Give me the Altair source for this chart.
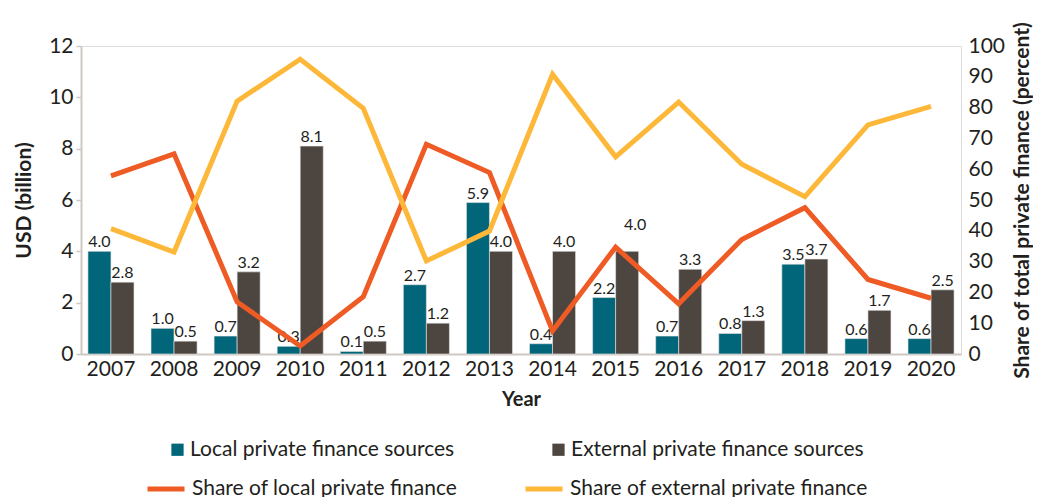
import altair as alt
import pandas as pd

years = [str(y) for y in range(2007, 2021)]
local_usd = [4.0, 1.0, 0.7, 0.3, 0.1, 2.7, 5.9, 0.4, 2.2, 0.7, 0.8, 3.5, 0.6, 0.6]
external_usd = [2.8, 0.5, 3.2, 8.1, 0.5, 1.2, 4.0, 4.0, 4.0, 3.3, 1.3, 3.7, 1.7, 2.5]
local_share = [57.8, 65.0, 16.9, 2.6, 18.6, 68.1, 58.9, 7.5, 34.7, 16.3, 37.2, 47.5, 24.2, 18.1]
external_share = [40.7, 33.1, 82.1, 95.7, 79.8, 30.2, 39.9, 90.8, 64.0, 81.8, 61.6, 51.1, 74.4, 80.4]

bar_series = ["Local private finance sources", "External private finance sources"]
line_series = ["Share of local private finance", "Share of external private finance"]
bar_colors = ["#02667a", "#4d4540"]
line_colors = ["#ef5b24", "#fdb83a"]

bars_df = pd.DataFrame({
    "Year": years * 2,
    "Series": [bar_series[0]] * len(years) + [bar_series[1]] * len(years),
    "USD": local_usd + external_usd,
})
bars_df["Label"] = bars_df["USD"].map(lambda v: f"{v:.1f}")
lines_df = pd.DataFrame({
    "Year": years * 2,
    "Series": [line_series[0]] * len(years) + [line_series[1]] * len(years),
    "Share": local_share + external_share,
})

FONT = "Lato"
TXT = "#231f20"
AXIS_GRAY = "#cdc8c4"

x_enc = alt.X(
    "Year:N",
    sort=years,
    scale=alt.Scale(paddingInner=0.27, paddingOuter=0.11),
    axis=alt.Axis(
        title="Year", titleFont=FONT, titleFontSize=20, titleFontWeight="bold",
        titleColor=TXT, titlePadding=10,
        labelFont=FONT, labelFontSize=21, labelColor=TXT, labelAngle=0,
        labelPadding=4, ticks=False, domainColor=AXIS_GRAY, domainWidth=2,
    ),
)

offset_enc = alt.XOffset("Series:N", sort=bar_series)

bars = alt.Chart(bars_df).mark_bar(stroke="#e8e6e4", strokeWidth=0.6).encode(
    x=x_enc,
    xOffset=offset_enc,
    y=alt.Y(
        "USD:Q",
        scale=alt.Scale(domain=[0, 12]),
        axis=alt.Axis(
            title="USD (billion)", titleFont=FONT, titleFontSize=21,
            titleFontWeight="bold", titleColor=TXT, titlePadding=14,
            labelFont=FONT, labelFontSize=21, labelColor=TXT,
            values=[0, 2, 4, 6, 8, 10, 12], grid=False,
            tickColor=AXIS_GRAY, tickSize=5, tickWidth=1.5,
            domainColor=AXIS_GRAY, domainWidth=2, labelPadding=3,
        ),
    ),
    fill=alt.Fill(
        "Series:N",
        sort=bar_series,
        scale=alt.Scale(domain=bar_series, range=bar_colors),
        legend=alt.Legend(
            title=None, orient="none", legendX=86, legendY=393,
            direction="horizontal", columns=2, columnPadding=93,
            symbolType="square", symbolSize=150, symbolStrokeWidth=0,
            labelFont=FONT, labelFontSize=21, labelColor=TXT, labelLimit=400,
            labelOffset=2,
        ),
    ),
)

labels_main = alt.Chart(bars_df).transform_filter(
    "!(datum.Year == '2015' && datum.Series == 'External private finance sources')"
).mark_text(font=FONT, fontSize=16, color=TXT, baseline="bottom", dy=-1).encode(
    x=alt.X("Year:N", sort=years),
    xOffset=offset_enc,
    y=alt.Y("USD:Q"),
    text="Label:N",
)

labels_2015 = alt.Chart(bars_df).transform_filter(
    "datum.Year == '2015' && datum.Series == 'External private finance sources'"
).mark_text(font=FONT, fontSize=16, color=TXT, baseline="bottom", dy=-18, dx=8).encode(
    x=alt.X("Year:N", sort=years),
    xOffset=offset_enc,
    y=alt.Y("USD:Q"),
    text="Label:N",
)

left = alt.layer(bars, labels_main, labels_2015)

lines = alt.Chart(lines_df).mark_line(strokeWidth=5).encode(
    x=alt.X("Year:N", sort=years),
    y=alt.Y(
        "Share:Q",
        scale=alt.Scale(domain=[0, 100]),
        axis=alt.Axis(
            title="Share of total private finance (percent)", titleFont=FONT,
            titleFontSize=21, titleFontWeight="bold", titleColor=TXT,
            titleAngle=270, titleBaseline="top", titlePadding=7,
            labelFont=FONT, labelFontSize=21,
            labelColor=TXT, values=list(range(0, 101, 10)), grid=False,
            ticks=False, domain=False, labelPadding=7,
        ),
    ),
    stroke=alt.Stroke(
        "Series:N",
        sort=line_series,
        scale=alt.Scale(domain=line_series, range=line_colors),
        legend=alt.Legend(
            title=None, orient="none", legendX=64, legendY=422,
            direction="horizontal", columns=2, columnPadding=57,
            symbolType="stroke", symbolSize=1369, symbolStrokeWidth=5,
            labelFont=FONT, labelFontSize=21, labelColor=TXT, labelLimit=400,
            labelOffset=5,
        ),
    ),
)

chart = alt.layer(left, lines).resolve_scale(
    y="independent", fill="independent", stroke="independent"
).properties(
    width=880, height=308,
    padding={"left": 5, "top": 13, "right": 0, "bottom": 0},
).configure_view(stroke=None).configure(background="white")

chart.save("out.html", embed_options={"renderer": "svg", "actions": False})
